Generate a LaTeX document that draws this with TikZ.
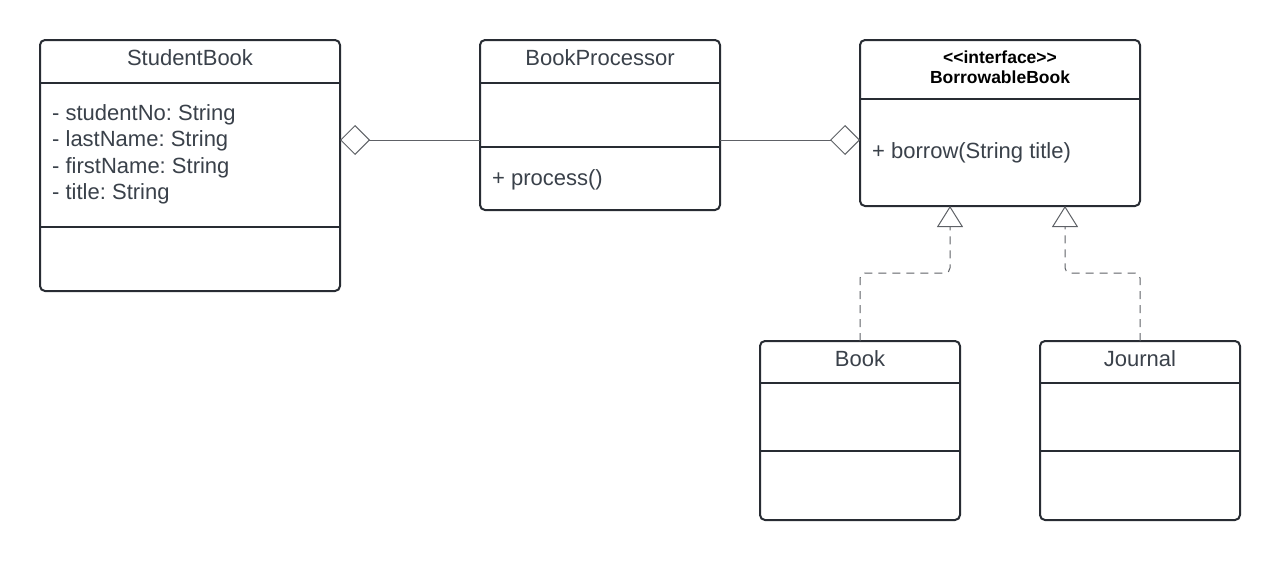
\documentclass[tikz,border=0pt]{standalone}
\usepackage{fontspec}
\setmainfont{Liberation Sans}
\usetikzlibrary{arrows.meta}
\definecolor{boxc}{HTML}{282C33}
\definecolor{txtc}{HTML}{3A414A}
\definecolor{linec}{HTML}{5E6166}
\tikzset{
  classbox/.style={draw=boxc, line width=2pt, rounded corners=5pt, fill=white, inner sep=0pt, outer sep=0pt, anchor=north west},
  divider/.style={draw=boxc, line width=2pt},
  lbl/.style={inner sep=0pt, text=txtc, font=\fontsize{22}{26}\selectfont},
  blbl/.style={inner sep=0pt, text=black, font=\fontsize{17.5}{20}\selectfont\bfseries},
  agg/.style={draw=linec, line width=1pt, -{Diamond[open,length=30pt,width=30pt,line width=1pt]}},
  real/.style={draw=linec, line width=1pt, dash pattern=on 8pt off 6pt, rounded corners=5pt, -{Triangle[open,length=21pt,width=26pt,line width=1pt]}}
}
\frenchspacing
\begin{document}
\begin{tikzpicture}[x=1pt,y=-1pt]
\useasboundingbox (0,0) rectangle (1280,560);
% class boxes
\node[classbox, minimum width=300pt, minimum height=251pt] (sb) at (40,40) {};
\node[classbox, minimum width=240pt, minimum height=170pt] (bp) at (480,40) {};
\node[classbox, minimum width=280pt, minimum height=166pt] (bb) at (860,40) {};
\node[classbox, minimum width=200pt, minimum height=179pt] (bk) at (760,341) {};
\node[classbox, minimum width=200pt, minimum height=179pt] (jn) at (1040,341) {};
% dividers
\coordinate (d1) at (0,83);
\coordinate (d2) at (0,227);
\coordinate (d3) at (0,147);
\coordinate (d4) at (0,99);
\coordinate (d5) at (0,383);
\coordinate (d6) at (0,451);
\draw[divider] (sb.west |- d1) -- (sb.east |- d1);
\draw[divider] (sb.west |- d2) -- (sb.east |- d2);
\draw[divider] (bp.west |- d1) -- (bp.east |- d1);
\draw[divider] (bp.west |- d3) -- (bp.east |- d3);
\draw[divider] (bb.west |- d4) -- (bb.east |- d4);
\draw[divider] (bk.west |- d5) -- (bk.east |- d5);
\draw[divider] (bk.west |- d6) -- (bk.east |- d6);
\draw[divider] (jn.west |- d5) -- (jn.east |- d5);
\draw[divider] (jn.west |- d6) -- (jn.east |- d6);
% texts
\node[lbl, anchor=base] (sbt) at (190,65) {StudentBook};
\node[lbl, anchor=base west] (sba1) at (52,120) {- studentNo: String};
\node[lbl, anchor=base west] (sba2) at (52,146.5) {- lastName: String};
\node[lbl, anchor=base west] (sba3) at (52,173) {- firstName: String};
\node[lbl, anchor=base west] (sba4) at (52,199.5) {- title: String};
\node[lbl, anchor=base] (bpt) at (600,65) {BookProcessor};
\node[lbl, anchor=base west] (bpm) at (492,185) {+ process()};
\node[blbl, anchor=base] (bbs) at (1000,63) {<{}<interface>{}>};
\node[blbl, anchor=base] (bbt) at (1000,83.5) {BorrowableBook};
\node[lbl, anchor=base west] (bbm) at (872,158) {+ borrow(String title)};
\node[lbl, anchor=base] (bkt) at (860,366) {Book};
\node[lbl, anchor=base] (jnt) at (1140,366) {Journal};
% aggregations
\coordinate (ya) at (0,140);
\draw[agg] (bp.west |- ya) -- (sb.east |- ya);
\draw[agg] (bp.east |- ya) -- (bb.west |- ya);
% realizations
\coordinate (k1) at (950,273);
\coordinate (k2) at (1065,273);
\draw[real] (bk.north) |- (k1) -- (k1 |- bb.south);
\draw[real] (jn.north) |- (k2) -- (k2 |- bb.south);
\end{tikzpicture}
\end{document}
